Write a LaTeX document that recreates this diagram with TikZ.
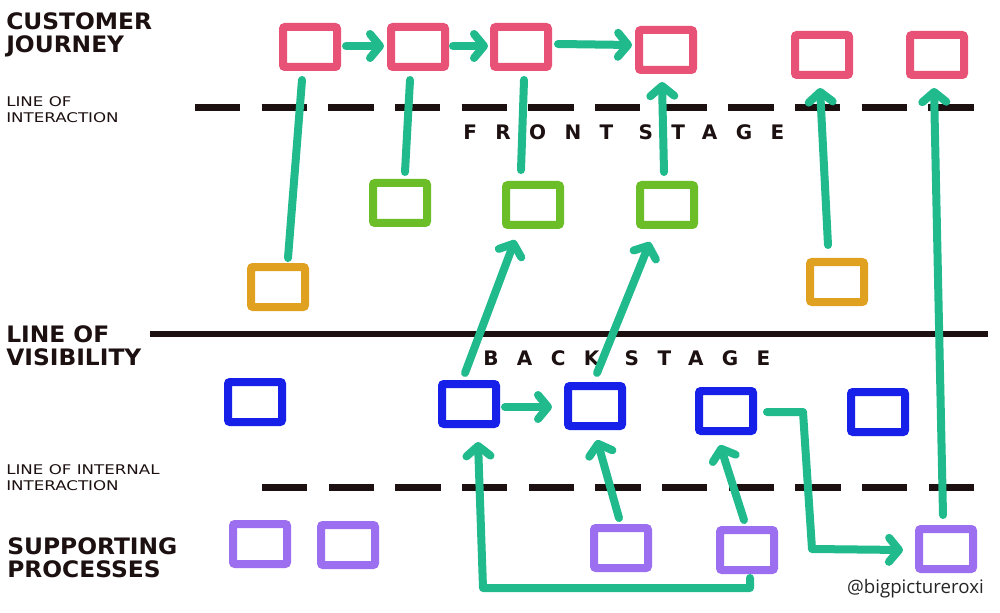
\documentclass[tikz,border=0pt]{standalone}
\usepackage{fontspec}
\setmainfont{DejaVu Sans}
\newfontfamily\bigfont[FakeStretch=1.03]{DejaVu Sans}
\newfontfamily\smallfont[FakeStretch=1.25]{DejaVu Sans}
\newfontfamily\stagefont[LetterSpace=92]{DejaVu Sans}
\newfontfamily\sigfont{Open Sans}
\usetikzlibrary{arrows.meta,calc}
\definecolor{cpink}{RGB}{232,82,118}
\definecolor{cgreen}{RGB}{108,190,40}
\definecolor{corange}{RGB}{224,160,32}
\definecolor{cblue}{RGB}{22,32,232}
\definecolor{cpurple}{RGB}{156,110,240}
\definecolor{cteal}{RGB}{32,186,140}
\definecolor{cink}{RGB}{28,16,16}
\begin{document}
\begin{tikzpicture}[x=0.75pt,y=-0.75pt,
  box/.style={draw=#1, line width=6pt, minimum width=40.5pt, minimum height=30pt, inner sep=0pt, rounded corners=1.5pt, fill=white},
  conn/.style={cteal, line width=6pt, line cap=round, line join=round},
  arr/.style={conn, -{Straight Barb[length=7.5pt,width=18pt,line cap=round,line join=round]}},
  dline/.style={cink, line width=5.25pt, dash pattern=on 34pt off 16pt},
  sline/.style={cink, line width=4.5pt},
  biglbl/.style={anchor=north west, inner sep=0pt, text=cink, align=left, font=\bigfont\bfseries\fontsize{17}{17.5}\selectfont},
  smalllbl/.style={anchor=north west, inner sep=0pt, text=cink, align=left, font=\smallfont\fontsize{10}{12.5}\selectfont},
  stage/.style={anchor=base west, inner sep=0pt, text=cink, font=\stagefont\bfseries\fontsize{15}{15}\selectfont}
]
\useasboundingbox[fill=white] (0,0) rectangle (1000,613);

% lines
\draw[dline] (195,108) -- (988,108);
\draw[sline] (150,334) -- (988,334);
\draw[dline] (262,487) -- (990,487);

% labels
\node[biglbl] (lcj) at (6,12) {CUSTOMER\\JOURNEY};
\node[smalllbl] (lli) at (6,96) {LINE OF\\INTERACTION};
\node[biglbl] (llv) at (6,325) {LINE OF\\VISIBILITY};
\node[smalllbl] (llii) at (6,464) {LINE OF INTERNAL\\INTERACTION};
\node[biglbl] (lsp) at (7,537) {SUPPORTING\\PROCESSES};
\node[stage] (fs) at (463,140) {FRONT STAGE};
\node[stage] (bs) at (483,365) {BACK STAGE};
\node[anchor=base east, inner sep=0pt, text=black!85, font=\sigfont\fontsize{14}{14}\selectfont] (sig) at (984,593) {@bigpictureroxi};

% boxes
\node[box=cpink] (p1) at (310,47) {};
\node[box=cpink] (p2) at (418,47) {};
\node[box=cpink] (p3) at (521,47) {};
\node[box=cpink] (p4) at (666,50) {};
\node[box=cpink] (p5) at (822,55) {};
\node[box=cpink] (p6) at (937,55) {};

\node[box=cgreen] (g1) at (400,203) {};
\node[box=cgreen] (g2) at (533,205) {};
\node[box=cgreen] (g3) at (667,205) {};

\node[box=corange] (o1) at (278,287) {};
\node[box=corange] (o2) at (837,282) {};

\node[box=cblue] (b1) at (255,402) {};
\node[box=cblue] (b2) at (469,404) {};
\node[box=cblue] (b3) at (595,406) {};
\node[box=cblue] (b4) at (726,411) {};
\node[box=cblue] (b5) at (878,412) {};

\node[box=cpurple] (s1) at (260,544) {};
\node[box=cpurple] (s2) at (348,545) {};
\node[box=cpurple] (s3) at (621,548) {};
\node[box=cpurple] (s4) at (747,550) {};
\node[box=cpurple] (s5) at (946,549) {};

% connectors
\draw[arr] ($(p1)+(36,-1)$) -- ($(p2)+(-34,-1)$);
\draw[arr] ($(p2)+(35,-1)$) -- ($(p3)+(-33,-1)$);
\draw[arr] ($(p3)+(37,-3)$) -- ($(p4)+(-34,-5)$);

\draw[conn] ($(p1)+(-8,33)$) -- ($(o1)+(10,-29)$);
\draw[conn] ($(p2)+(-8,33)$) -- ($(g1)+(5,-31)$);
\draw[conn] ($(p3)+(3,33)$) -- ($(g2)+(-12,-35)$);

\draw[arr] ($(g3)+(-3,-33)$) -- ($(p4)+(-4,32)$);
\draw[arr] ($(o2)+(-9,-37)$) -- ($(p5)+(-2,33)$);
\draw[arr] ($(s5)+(-3,-34)$) -- ($(p6)+(-3,33)$);

\draw[arr] ($(b2)+(-4,-31)$) -- ($(g2)+(-18,35)$);
\draw[arr] ($(b3)+(2,-33)$) -- ($(g3)+(-17,37)$);
\draw[arr] ($(b2)+(36,3)$) -- ($(b3)+(-43,1)$);

\draw[arr] ($(s3)+(-2,-30)$) -- ($(b3)+(2,34)$);
\draw[arr] ($(s4)+(-3,-30)$) -- ($(b4)+(-6,34)$);

\draw[arr] ($(s4)+(3,28)$) -- ++(0,10) -- ($(b2)+(14,184)$) -- ($(b2)+(9,38)$);
\draw[arr] ($(b4)+(41,1)$) -- ($(b4)+(77,1)$) -- ($(s5)+(-134,0)$) -- ($(s5)+(-43,1)$);
\end{tikzpicture}
\end{document}
